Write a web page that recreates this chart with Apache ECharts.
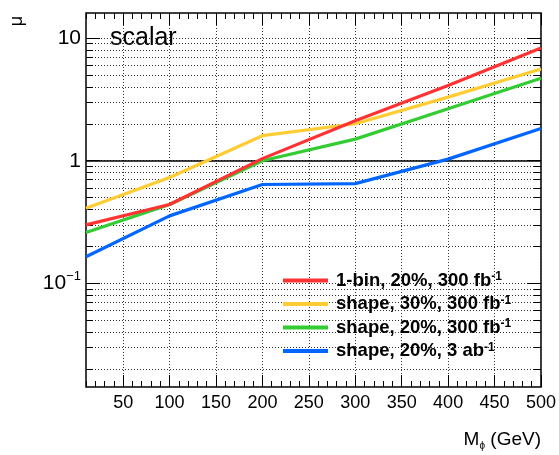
<!DOCTYPE html>
<html>
<head>
<meta charset="utf-8">
<script src="https://cdn.jsdelivr.net/npm/echarts@6/dist/echarts.min.js"></script>
<style>html,body{margin:0;padding:0;background:#fff;}#c{width:559px;height:455px;}</style>
</head>
<body>
<div id="c"></div>
<script>
// ---- data ----
var masses = [10, 100, 200, 300, 400, 500];
var oneBin20_300 = [0.30, 0.44, 1.04, 2.12, 4.1, 8.3];
var shape30_300 = [0.41, 0.73, 1.6, 2.0, 3.3, 5.6];
var shape20_300 = [0.26, 0.44, 1.0, 1.5, 2.65, 4.7];
var shape20_3ab = [0.165, 0.355, 0.64, 0.65, 1.03, 1.83];
var seriesMain = ['1-bin, 20%, 300 fb', 'shape, 30%, 300 fb', 'shape, 20%, 300 fb', 'shape, 20%, 3 ab'];
var seriesSup = ['-1', '-1', '-1', '-1'];
var seriesValues = [oneBin20_300, shape30_300, shape20_300, shape20_3ab];
var seriesColors = ['#ff3333', '#ffcc33', '#33cc33', '#0066ff'];
var xMajorTicks = [50, 100, 150, 200, 250, 300, 350, 400, 450, 500];
var xMinorTicks = [];
for (var v = 10; v <= 500; v += 10) xMinorTicks.push(v);
var yMajorTicks = [0.1, 1, 10];
var yMinorTicks = [0.02,0.03,0.04,0.05,0.06,0.07,0.08,0.09,0.1,0.2,0.3,0.4,0.5,0.6,0.7,0.8,0.9,1,2,3,4,5,6,7,8,9,10];
var referenceLevel = 1;
var xRange = [10, 500];
var yRange = [0.0143, 16];

var FONT = 'Liberation Sans, Arial, Helvetica, sans-serif';
var seriesNames = seriesMain.map(function (m, i) { return m + ' ' + seriesSup[i]; });

function yLabel(val) {
  if (Math.abs(val - 0.1) < 1e-9) return '{a|10}{s|\u22121}';
  if (Math.abs(val - 1) < 1e-9) return '{a|1}';
  if (Math.abs(val - 10) < 1e-9) return '{a|10}';
  return '';
}

function yAxisDef(pos, ticks, len, labels, split) {
  return {
    type: 'log', logBase: 10, min: yRange[0], max: yRange[1], position: pos,
    axisLine: { show: false },
    axisTick: { show: true, inside: true, length: len, customValues: ticks, lineStyle: { color: '#000', width: 1 } },
    axisLabel: labels ? {
      show: true, customValues: yMajorTicks, margin: 5, formatter: yLabel,
      rich: {
        a: { fontSize: 21, fontFamily: FONT, color: '#000' },
        s: { fontSize: 13, fontFamily: FONT, color: '#000', verticalAlign: 'top', lineHeight: 26 }
      }
    } : { show: false },
    splitLine: { show: split, lineStyle: { color: '#333', type: [1, 2], width: 1 } },
    minorTick: { show: false }, minorSplitLine: { show: false }
  };
}
function xAxisDef(pos, ticks, len, labels, split) {
  return {
    type: 'value', min: xRange[0], max: xRange[1], position: pos,
    axisLine: { show: false },
    axisTick: { show: true, inside: true, length: len, customValues: ticks, lineStyle: { color: '#000', width: 1 } },
    axisLabel: labels ? { show: true, customValues: xMajorTicks, margin: 7, fontSize: 18, fontFamily: FONT, color: '#000' } : { show: false },
    splitLine: { show: split, lineStyle: { color: '#333', type: [1, 2], width: 1 } }
  };
}

var series = seriesValues.map(function (vals, i) {
  var s = {
    name: seriesNames[i], type: 'line', xAxisIndex: 0, yAxisIndex: 0,
    data: masses.map(function (m, j) { return [m, vals[j]]; }),
    showSymbol: false, symbol: 'none', smooth: false,
    lineStyle: { color: seriesColors[i], width: 3.2 },
    itemStyle: { color: seriesColors[i] },
    z: 5 - i + 3
  };
  if (i === 0) {
    s.markLine = {
      silent: true, symbol: 'none', label: { show: false },
      lineStyle: { color: '#000', type: 'solid', width: 1.5 },
      data: [{ yAxis: referenceLevel }], animation: false
    };
  }
  return s;
});

var chart = echarts.init(document.getElementById('c'), null, { renderer: 'canvas' });
chart.setOption({
  animation: false,
  backgroundColor: '#fff',
  grid: { left: 86, right: 18, top: 13, bottom: 68, show: true, borderColor: '#000', borderWidth: 1.5, backgroundColor: 'transparent' },
  xAxis: [
    xAxisDef('bottom', xMajorTicks, 12, true, true),
    xAxisDef('bottom', xMinorTicks, 6, false, false),
    xAxisDef('top', xMajorTicks, 12, false, false),
    xAxisDef('top', xMinorTicks, 6, false, false)
  ],
  yAxis: [
    yAxisDef('left', yMajorTicks, 14, true, false),
    yAxisDef('left', yMinorTicks, 7, false, true),
    yAxisDef('right', yMajorTicks, 14, false, false),
    yAxisDef('right', yMinorTicks, 7, false, false)
  ],
  legend: {
    orient: 'vertical', left: 278, top: 266,
    itemWidth: 45, itemHeight: 4, itemGap: 4.5, icon: 'rect',
    data: seriesNames,
    formatter: function (name) {
      var i = seriesNames.indexOf(name);
      return '{b|' + seriesMain[i] + '}{s|' + seriesSup[i] + '}';
    },
    textStyle: {
      padding: [0, 0, 0, 3],
      rich: {
        b: { fontSize: 18.5, fontWeight: 'bold', fontFamily: FONT, color: '#000', lineHeight: 19 },
        s: { fontSize: 12, fontWeight: 'bold', fontFamily: FONT, color: '#000', verticalAlign: 'top', lineHeight: 19 }
      }
    }
  },
  graphic: [
    { type: 'text', x: 17, y: 21, rotation: Math.PI / 2, style: { text: '\u03bc', font: '18px ' + FONT, fill: '#000', align: 'center', verticalAlign: 'middle' } },
    { type: 'text', x: 110, y: 38, style: { text: 'scalar', font: '25px ' + FONT, fill: '#000', align: 'left', verticalAlign: 'middle' } },
    { type: 'text', x: 541, y: 440, style: {
        text: '{a|M}{b|\u03d5}{a| (GeV)}', align: 'right', verticalAlign: 'middle',
        rich: {
          a: { fontSize: 19, fontFamily: FONT, fill: '#000', color: '#000', lineHeight: 22 },
          b: { fontSize: 10, fontFamily: FONT, fill: '#000', color: '#000', verticalAlign: 'bottom', lineHeight: 22 }
        }
      } }
  ],
  series: series
});
</script>
</body>
</html>
